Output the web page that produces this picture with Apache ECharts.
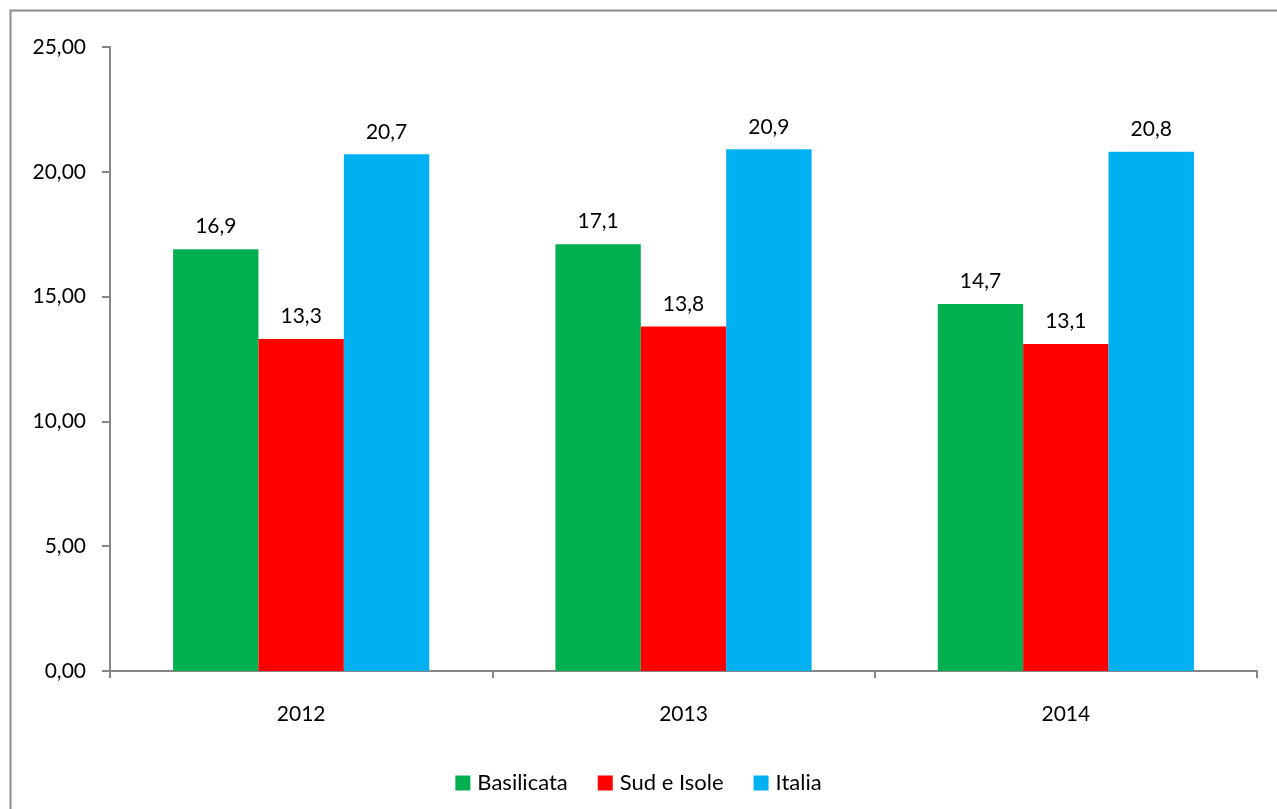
<!DOCTYPE html>
<html>
<head>
<meta charset="utf-8">
<script src="https://cdn.jsdelivr.net/npm/echarts@6/dist/echarts.min.js"></script>
<style>
  html, body { margin: 0; padding: 0; background: #fff; }
  #chart { width: 1277px; height: 809px; }
</style>
</head>
<body>
<div id="chart"></div>
<script>
// Years on the category axis
const years = ['2012', '2013', '2014'];
// Values per area
const basilicata = [16.9, 17.1, 14.7];
const sudIsole = [13.3, 13.8, 13.1];
const italia = [20.7, 20.9, 20.8];
const seriesNames = ['Basilicata', 'Sud e Isole', 'Italia'];
const seriesColors = ['#00B050', '#FF0000', '#00B0F0'];

const FONT = 'Lato';
const FS = 21;
const fmtComma = (v, d) => Number(v).toFixed(d).replace('.', ',');

const chart = echarts.init(document.getElementById('chart'), null, { renderer: 'canvas' });

const mkSeries = (name, data, color) => ({
  name,
  type: 'bar',
  data,
  barGap: '0%',
  barCategoryGap: '33%',
  itemStyle: { color },
  label: {
    show: true,
    position: 'top',
    distance: 12,
    color: '#000',
    fontFamily: FONT,
    fontSize: FS,
    formatter: p => fmtComma(p.value, 1)
  }
});

chart.setOption({
  animation: false,
  backgroundColor: '#fff',
  graphic: [{
    type: 'rect',
    left: 8, top: 8,
    shape: { width: 1300, height: 830 },
    style: { fill: 'none', stroke: '#8c8c8c', lineWidth: 2 },
    silent: true
  }],
  grid: { left: 110, right: 20, top: 47, bottom: 138, containLabel: false },
  legend: {
    top: 767,
    left: 'center',
    itemWidth: 15,
    itemHeight: 15,
    itemGap: 30,
    icon: 'rect',
    textStyle: { fontFamily: FONT, fontSize: 22, color: '#000', padding: [0, 0, 0, 2] },
    data: seriesNames
  },
  xAxis: {
    type: 'category',
    data: years,
    axisLine: { lineStyle: { color: '#868686', width: 2 } },
    axisTick: { show: true, length: 7, lineStyle: { color: '#868686', width: 2 } },
    axisLabel: { margin: 33, color: '#000', fontFamily: FONT, fontSize: FS }
  },
  yAxis: {
    type: 'value',
    min: 0, max: 25, interval: 5,
    splitLine: { show: false },
    axisLine: { show: true, lineStyle: { color: '#868686', width: 2 } },
    axisTick: { show: true, length: 8, lineStyle: { color: '#868686', width: 2 } },
    axisLabel: { margin: 24, color: '#000', fontFamily: FONT, fontSize: FS,
                 formatter: v => fmtComma(v, 2) }
  },
  series: [
    mkSeries(seriesNames[0], basilicata, seriesColors[0]),
    mkSeries(seriesNames[1], sudIsole, seriesColors[1]),
    mkSeries(seriesNames[2], italia, seriesColors[2])
  ]
});
</script>
</body>
</html>
